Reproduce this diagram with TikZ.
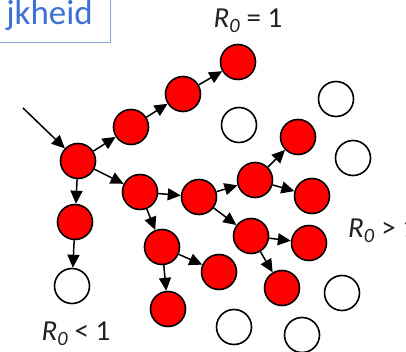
\documentclass[tikz,border=0pt]{standalone}
\usepackage{fontspec}
\setmainfont{Carlito}
\usetikzlibrary{arrows.meta}
\definecolor{titleblue}{HTML}{3C70D6}
\definecolor{boxline}{HTML}{8FA8D0}
\definecolor{labelgray}{HTML}{222222}
\begin{document}
\begin{tikzpicture}[x=1pt,y=-1pt,
  inf/.style={circle,draw=black,line width=1.6pt,fill=red,minimum size=35pt,inner sep=0pt},
  sus/.style={circle,draw=black,line width=1.6pt,fill=white,minimum size=35pt,inner sep=0pt},
  arr/.style={-{Triangle[length=13pt,width=12pt]},line width=1.5pt},
  lbl/.style={text=labelgray,font=\fontsize{29}{34}\selectfont,inner sep=0pt}]
\useasboundingbox (0,0) rectangle (406,352);
% title box (cut off at the left and top)
\draw[boxline,line width=0.9pt] (-10,-10) rectangle (110,42);
\node[text=titleblue,font=\fontsize{35}{40}\selectfont,anchor=base east,inner sep=0pt] (title) at (93,25) {jkheid};
% infected nodes
\node[inf] (A) at (78,161) {};
\node[inf] (B) at (131,127) {};
\node[inf] (D) at (183,94) {};
\node[inf] (C) at (238,62) {};
\node[inf] (G) at (75,222) {};
\node[inf] (E) at (140,192) {};
\node[inf] (F) at (199,197) {};
\node[inf] (H) at (162,247) {};
\node[inf] (I) at (168,309) {};
\node[inf] (J) at (219,272) {};
\node[inf] (O) at (255,180) {};
\node[inf] (N) at (298,137) {};
\node[inf] (P) at (312,196) {};
\node[inf] (K) at (251,236) {};
\node[inf] (M) at (309,243) {};
\node[inf] (L) at (282,288) {};
% susceptible nodes
\node[sus] (W1) at (72,286) {};
\node[sus] (W2) at (239,125) {};
\node[sus] (W3) at (336,99) {};
\node[sus] (W4) at (353,158) {};
\node[sus] (W5) at (342,293) {};
\node[sus] (W6) at (234,327) {};
\node[sus] (W7) at (302,335) {};
% incoming
\coordinate (in) at (23,108);
\draw[arr] (in) -- (A);
% transmissions
\draw[arr] (A) -- (B);
\draw[arr] (B) -- (D);
\draw[arr] (D) -- (C);
\draw[arr] (A) -- (G);
\draw[arr] (G) -- (W1);
\draw[arr] (A) -- (E);
\draw[arr] (E) -- (F);
\draw[arr] (E) -- (H);
\draw[arr] (H) -- (J);
\draw[arr] (H) -- (I);
\draw[arr] (F) -- (O);
\draw[arr] (O) -- (N);
\draw[arr] (O) -- (P);
\draw[arr] (F) -- (K);
\draw[arr] (K) -- (M);
\draw[arr] (K) -- (L);
% labels
\node[lbl] (r1) at (248,21) {\itshape R\textsubscript{0}\upshape{} = 1};
\node[lbl] (r2) at (76,334) {\itshape R\textsubscript{0}\upshape{} < 1};
\node[lbl,anchor=west] (r3) at (348,231) {\itshape R\textsubscript{0}\upshape{} > 1};
\end{tikzpicture}
\end{document}
